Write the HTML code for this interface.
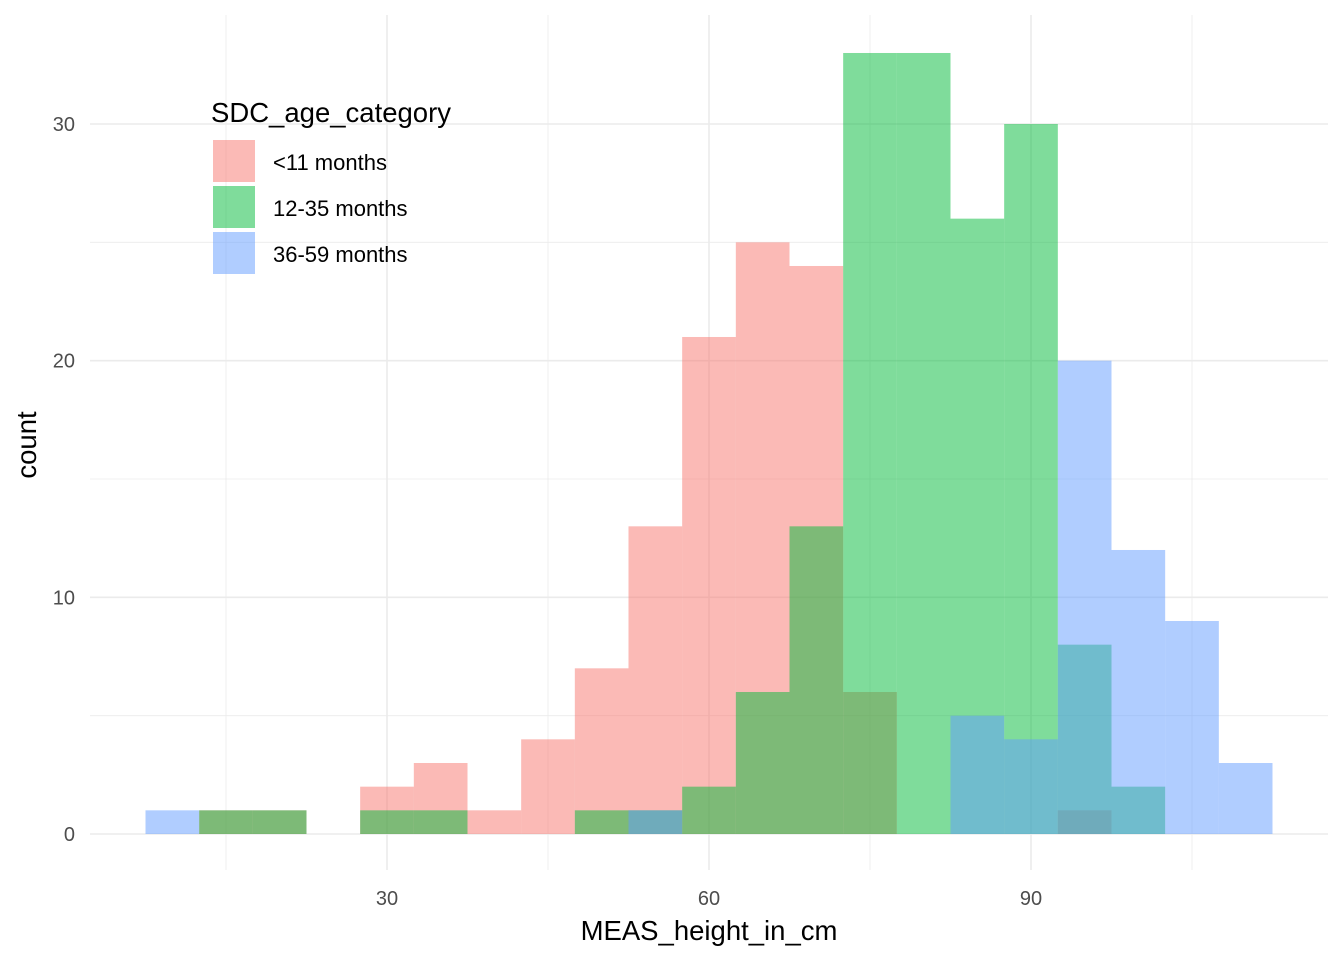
<!DOCTYPE html>
<html><head><meta charset="utf-8"><style>
body{margin:0;background:#fff}
svg{display:block;font-family:"Liberation Sans",Arial,sans-serif}
</style></head><body>
<svg id="chart" width="1344" height="960" viewBox="0 0 1344 960">
<g id="grid"></g>
<g id="bars"></g>
<g id="axes"></g>
<text x="709" y="940" font-size="27.5" text-anchor="middle" fill="#000">MEAS_height_in_cm</text>
<text transform="translate(36,445) rotate(-90)" font-size="27.5" text-anchor="middle" fill="#000">count</text>
<g>
<text x="211" y="122" font-size="27.5" fill="#000">SDC_age_category</text>
<rect x="213" y="140" width="42" height="42" fill="#F8766D" fill-opacity="0.5"/>
<text x="273" y="170" font-size="22" fill="#000">&lt;11 months</text>
<rect x="213" y="186" width="42" height="42" fill="#00BA38" fill-opacity="0.5"/>
<text x="273" y="216" font-size="22" fill="#000">12-35 months</text>
<rect x="213" y="232" width="42" height="42" fill="#619CFF" fill-opacity="0.5"/>
<text x="273" y="262" font-size="22" fill="#000">36-59 months</text>
</g>
</svg>
<script>
const binStarts=[7.5,12.5,17.5,22.5,27.5,32.5,37.5,42.5,47.5,52.5,57.5,62.5,67.5,72.5,77.5,82.5,87.5,92.5,97.5,102.5,107.5];
const binWidth=5;
const redCounts=[0,1,1,0,2,3,1,4,7,13,21,25,24,6,0,0,0,1,0,0,0];
const greenCounts=[0,1,1,0,1,1,0,0,1,1,2,6,13,33,33,26,30,8,2,0,0];
const blueCounts=[1,0,0,0,0,0,0,0,0,1,0,0,0,0,0,5,4,20,12,9,3];
const xTicks=[30,60,90];
const xMinor=[15,45,75,105];
const yTicks=[0,10,20,30];
const yMinor=[5,15,25];
const NS="http://www.w3.org/2000/svg";
function xs(v){return 387+(v-30)*322/30;}
function ys(v){return 834-v*23.667;}
const grid=document.getElementById('grid'),bars=document.getElementById('bars'),axes=document.getElementById('axes');
function line(p,x1,y1,x2,y2,w,name){const l=document.createElementNS(NS,'line');l.setAttribute('x1',x1);l.setAttribute('y1',y1);l.setAttribute('x2',x2);l.setAttribute('y2',y2);l.setAttribute('stroke','#ebebeb');l.setAttribute('stroke-width',w);


p.appendChild(l);}
xMinor.forEach(v=>line(grid,xs(v),15,xs(v),870,0.8,'x-minor-gridline'));
yMinor.forEach(v=>line(grid,90,ys(v),1328,ys(v),0.8,'y-minor-gridline'));
xTicks.forEach(v=>line(grid,xs(v),15,xs(v),870,1.6,'x-major-gridline'));
yTicks.forEach(v=>line(grid,90,ys(v),1328,ys(v),1.6,'y-major-gridline'));
function series(counts,color,name){counts.forEach((c,i)=>{if(!c)return;const r=document.createElementNS(NS,'rect');
const x0=xs(binStarts[i]),x1=xs(binStarts[i]+binWidth);
r.setAttribute('x',x0);r.setAttribute('width',x1-x0);r.setAttribute('y',ys(c));r.setAttribute('height',ys(0)-ys(c));
r.setAttribute('fill',color);r.setAttribute('fill-opacity','0.5');


bars.appendChild(r);});}
series(redCounts,'#F8766D','under-11-months');
series(greenCounts,'#00BA38','12-35-months');
series(blueCounts,'#619CFF','36-59-months');
xTicks.forEach(v=>{const t=document.createElementNS(NS,'text');t.setAttribute('x',xs(v));t.setAttribute('y',905);t.setAttribute('font-size','20');t.setAttribute('fill','#4d4d4d');t.setAttribute('text-anchor','middle');t.textContent=v;


axes.appendChild(t);});
yTicks.forEach(v=>{const t=document.createElementNS(NS,'text');t.setAttribute('x',75);t.setAttribute('y',ys(v)+7);t.setAttribute('font-size','20');t.setAttribute('fill','#4d4d4d');t.setAttribute('text-anchor','end');t.textContent=v;


axes.appendChild(t);});
</script>
</body></html>
